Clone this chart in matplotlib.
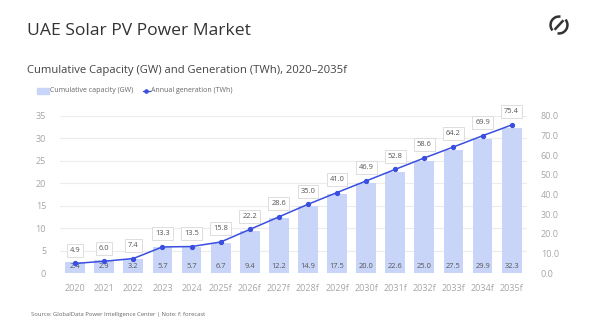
import matplotlib.pyplot as plt
from matplotlib.patches import Arc
from matplotlib.lines import Line2D
import numpy as np

plt.rcParams['font.family'] = ['Open Sans', 'DejaVu Sans']

years = ['2020', '2021', '2022', '2023', '2024', '2025f', '2026f', '2027f',
         '2028f', '2029f', '2030f', '2031f', '2032f', '2033f', '2034f', '2035f']
capacity = [2.4, 2.9, 3.2, 5.7, 5.7, 6.7, 9.4, 12.2, 14.9, 17.5, 20.0, 22.6, 25.0, 27.5, 29.9, 32.3]
generation = [4.9, 6.0, 7.4, 13.3, 13.5, 15.8, 22.2, 28.6, 35.0, 41.0, 46.9, 52.8, 58.6, 64.2, 69.9, 75.4]

bar_col = '#c9d5f8'
line_col = '#3a4ee0'
tick_col = '#a6a6a6'

fig = plt.figure(figsize=(6, 3.22), dpi=100)
ax = fig.add_axes([0.1, 0.152, 0.778, 0.488])
ax2 = ax.twinx()

x = np.arange(len(years))
ax.bar(x, capacity, width=0.68, color=bar_col, zorder=2)
for xi, v in zip(x, capacity):
    ax.text(xi, 0.7, f'{v:.1f}', ha='center', va='bottom', fontsize=5.4, color='#555555', zorder=3)

ax2.plot(x, generation, color=line_col, lw=1.1, marker='o', ms=2.8, zorder=4)
for xi, v in zip(x, generation):
    ax2.annotate(f'{v:.1f}', (xi, v), xytext=(0, 7), textcoords='offset points',
                 ha='center', va='bottom', fontsize=5.4, color='#555555',
                 bbox=dict(boxstyle='square,pad=0.4', fc='white', ec='#dddddd', lw=0.7),
                 annotation_clip=False)

ax.set_xlim(-0.52, len(years) - 0.48)
ax.set_ylim(0, 35)
ax2.set_ylim(0, 80)
ax.set_yticks(range(0, 36, 5))
ax2.set_yticks(range(0, 81, 10))
ax2.set_yticklabels([f'{v:.1f}' for v in range(0, 81, 10)])
ax.set_xticks(x)
ax.set_xticklabels(years)

ax.grid(axis='y', color='#ececec', lw=0.8, zorder=0)
ax.set_axisbelow(True)
for a in (ax, ax2):
    for s in a.spines.values():
        s.set_visible(False)
    a.tick_params(length=0, colors=tick_col, labelsize=6.5)
ax.tick_params(axis='x', pad=8)
ax.tick_params(axis='y', pad=10)
ax2.tick_params(axis='y', pad=10)
ax.set_zorder(ax2.get_zorder() - 1)
ax.patch.set_visible(False)
ax2.patch.set_visible(False)

fig.text(0.045, 0.905, 'UAE Solar PV Power Market', fontsize=12.6, color='#333333', va='center')
fig.text(0.045, 0.78, 'Cumulative Capacity (GW) and Generation (TWh), 2020\u20132035f',
         fontsize=8.1, color='#444444', va='center')

# legend
fig.patches.append(plt.Rectangle((0.062, 0.709), 0.019, 0.018, color=bar_col,
                                 transform=fig.transFigure, figure=fig))
fig.text(0.083, 0.718, 'Cumulative capacity (GW)', fontsize=5, color='#666666', va='center')
fig.lines.append(Line2D([0.238, 0.25], [0.718, 0.718], color=line_col, lw=0.9,
                        transform=fig.transFigure))
fig.lines.append(Line2D([0.244], [0.718], color=line_col, marker='o', ms=2.3,
                        transform=fig.transFigure))
fig.text(0.252, 0.718, 'Annual generation (TWh)', fontsize=5, color='#666666', va='center')

# logo: broken ring with a diagonal stroke
lax = fig.add_axes([559 / 600 - 11 / 600, 1 - 36 / 322, 22 / 600, 22 / 322])
lax.set_xlim(-1.3, 1.3)
lax.set_ylim(-1.3, 1.3)
lax.set_aspect('equal')
lax.axis('off')
lax.add_patch(Arc((0, 0), 2, 2, theta1=80, theta2=220, color='#333333', lw=1.8))
lax.add_patch(Arc((0, 0), 2, 2, theta1=260, theta2=40, color='#333333', lw=1.8))
a1, a2 = np.radians(40), np.radians(220)
lax.plot([np.cos(a1) * 0.55, np.cos(a2) * 0.55], [np.sin(a1) * 0.55 + 0.1, np.sin(a2) * 0.55 - 0.1],
         color='#333333', lw=1.8)

fig.text(0.052, 0.022, 'Source: GlobalData Power Intelligence Center | Note: f: forecast',
         fontsize=4.2, color='#666666', va='center')

fig.savefig('out.png', dpi=100)
